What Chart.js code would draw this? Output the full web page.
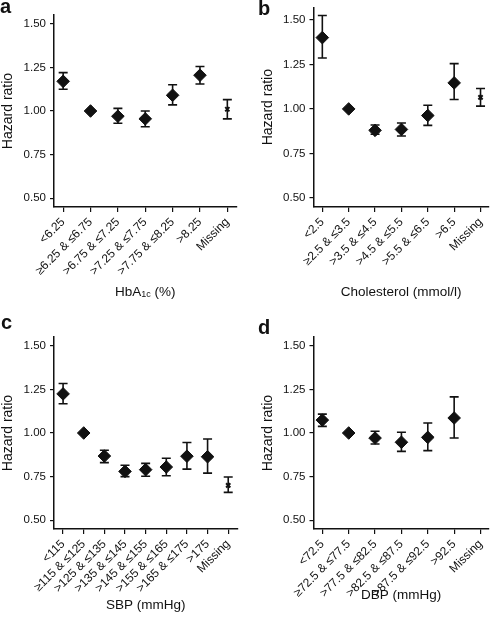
<!DOCTYPE html>
<html>
<head>
<meta charset="utf-8">
<script src="https://cdn.jsdelivr.net/npm/chart.js@4.4.1/dist/chart.umd.min.js"></script>
<style>
  html, body { margin: 0; padding: 0; background: #fff; }
  #wrap { position: relative; width: 496px; height: 620px; overflow: hidden; }
  .panel { position: absolute; width: 248px; height: 310px; }
  .tag { position: absolute; font: bold 20px 'Liberation Sans', Arial, sans-serif; line-height: 20px; color: #111; }
</style>
</head>
<body>
<div id="wrap">
  <div class="panel" style="left:0;top:0"><canvas id="chartA" width="248" height="310"></canvas></div>
  <div class="panel" style="left:248px;top:0"><canvas id="chartB" width="248" height="310"></canvas></div>
  <div class="panel" style="left:0;top:310px"><canvas id="chartC" width="248" height="310"></canvas></div>
  <div class="panel" style="left:248px;top:310px"><canvas id="chartD" width="248" height="310"></canvas></div>
  <div class="tag" style="left:0;top:-4px">a</div>
  <div class="tag" style="left:258px;top:-2px">b</div>
  <div class="tag" style="left:1px;top:312px">c</div>
  <div class="tag" style="left:258px;top:317px">d</div>
</div>
<script>
const yTicks = [0.5, 0.75, 1.0, 1.25, 1.5]

// a: HbA1c
const hba1cLabels = ['<6.25', '≥6.25 & ≤6.75', '>6.75 & ≤7.25', '>7.25 & ≤7.75', '>7.75 & ≤8.25', '>8.25', 'Missing']
const hba1cHR   = [1.17, 1.00, 0.97, 0.955, 1.09, 1.205, 1.01]
const hba1cLow  = [1.125, null, 0.93, 0.91, 1.035, 1.155, 0.955]
const hba1cHigh = [1.22, null, 1.015, 1.00, 1.15, 1.255, 1.065]

// b: cholesterol
const cholLabels = ['<2.5', '≥2.5 & ≤3.5', '>3.5 & ≤4.5', '>4.5 & ≤5.5', '>5.5 & ≤6.5', '>6.5', 'Missing']
const cholHR   = [1.40, 1.00, 0.88, 0.885, 0.963, 1.146, 1.065]
const cholLow  = [1.286, null, 0.858, 0.848, 0.908, 1.053, 1.016]
const cholHigh = [1.524, null, 0.91, 0.921, 1.021, 1.254, 1.115]

// c: SBP
const sbpLabels = ['<115', '≥115 & ≤125', '>125 & ≤135', '>135 & ≤145', '>145 & ≤155', '>155 & ≤165', '>165 & ≤175', '>175', 'Missing']
const sbpHR   = [1.224, 1.00, 0.868, 0.78, 0.79, 0.805, 0.867, 0.864, 0.70]
const sbpLow  = [1.168, null, 0.83, 0.75, 0.752, 0.755, 0.793, 0.77, 0.66]
const sbpHigh = [1.284, null, 0.901, 0.815, 0.826, 0.855, 0.946, 0.966, 0.748]

// d: DBP
const dbpLabels = ['<72.5', '≥72.5 & ≤77.5', '>77.5 & ≤82.5', '>82.5 & ≤87.5', '>87.5 & ≤92.5', '>92.5', 'Missing']
const dbpHR   = [1.074, 1.00, 0.971, 0.947, 0.975, 1.086, null]
const dbpLow  = [1.038, null, 0.937, 0.895, 0.899, 0.971, null]
const dbpHigh = [1.108, null, 1.01, 1.004, 1.057, 1.207, null]

const FONT = "'Liberation Sans', Arial, Helvetica, sans-serif"
const INK = '#111'

function errorBars(lo, hi) {
  return {
    id: 'errorBars',
    beforeDatasetsDraw(chart) {
      const { ctx, scales: { x, y } } = chart
      ctx.save()
      ctx.strokeStyle = INK
      ctx.lineWidth = 1.6
      lo.forEach((l, i) => {
        if (l == null || hi[i] == null) return
        const px = x.getPixelForValue(i)
        const top = y.getPixelForValue(hi[i])
        const bot = y.getPixelForValue(l)
        ctx.beginPath()
        ctx.moveTo(px, top); ctx.lineTo(px, bot)
        ctx.moveTo(px - 4.5, top); ctx.lineTo(px + 4.5, top)
        ctx.moveTo(px - 4.5, bot); ctx.lineTo(px + 4.5, bot)
        ctx.stroke()
      })
      ctx.restore()
    }
  }
}

// x axis title, drawn by hand so HbA1c can have its subscript
function xTitle(parts, yPos) {
  return {
    id: 'xTitle',
    afterDraw(chart) {
      const { ctx, chartArea } = chart
      const fontOf = p => (p.sub ? 9 : 13.5) + 'px ' + FONT
      ctx.save()
      ctx.fillStyle = INK
      ctx.textBaseline = 'middle'
      let total = 0
      parts.forEach(p => { ctx.font = fontOf(p); total += ctx.measureText(p.text).width })
      let x = (chartArea.left + chartArea.right) / 2 - total / 2
      parts.forEach(p => {
        ctx.font = fontOf(p)
        ctx.fillText(p.text, x, yPos + (p.sub ? 3 : 0))
        x += ctx.measureText(p.text).width
      })
      ctx.restore()
    }
  }
}

function panel(id, p) {
  const pts = []
  p.hr.forEach((v, i) => { if (v != null) pts.push({ x: i, y: v }) })
  const isMissing = pts.map(d => p.labels[d.x] === 'Missing')

  return new Chart(document.getElementById(id), {
    type: 'scatter',
    data: {
      datasets: [{
        data: pts,
        pointStyle: isMissing.map(m => m ? 'crossRot' : 'rectRot'),
        pointRadius: isMissing.map(m => m ? 3 : 6.3),
        pointBorderWidth: isMissing.map(m => m ? 2 : 1),
        pointBackgroundColor: INK,
        pointBorderColor: INK
      }]
    },
    options: {
      responsive: false,
      animation: false,
      layout: { padding: p.pad },
      plugins: { legend: { display: false }, tooltip: { enabled: false } },
      scales: {
        x: {
          type: 'linear',
          min: p.xMin,
          max: p.xMax,
          afterBuildTicks: s => { s.ticks = p.labels.map((_, i) => ({ value: i })) },
          // tall box so the rotated labels are not clipped
          afterFit: s => { s.height = p.xHeight; s.paddingLeft = 0; s.paddingRight = 0 },
          ticks: {
            autoSkip: false, minRotation: 45, maxRotation: 45, padding: 3,
            color: INK, font: { family: FONT, size: 12 },
            callback: v => p.labels[v]
          },
          grid: { drawOnChartArea: false, tickLength: 5, color: INK, lineWidth: 1.2 },
          border: { color: INK, width: 1.5 }
        },
        y: {
          min: p.yMin,
          max: p.yMax,
          afterBuildTicks: s => { s.ticks = yTicks.map(v => ({ value: v })) },
          afterFit: s => { s.width = p.yWidth; s.paddingTop = 0; s.paddingBottom = 0 },
          ticks: {
            padding: 4, color: INK, font: { family: FONT, size: 11.5 },
            callback: v => v.toFixed(2)
          },
          grid: { drawOnChartArea: false, tickLength: 4, color: INK, lineWidth: 1.2 },
          border: { color: INK, width: 1.5 },
          title: { display: true, text: 'Hazard ratio', color: INK, font: { family: FONT, size: 14 }, padding: 0 }
        }
      }
    },
    plugins: [errorBars(p.lo, p.hi), xTitle(p.title, p.titleY)]
  })
}

panel('chartA', {
  labels: hba1cLabels, hr: hba1cHR, lo: hba1cLow, hi: hba1cHigh,
  xMin: -0.335, xMax: 6.335, yMin: 0.45, yMax: 1.55,
  pad: { left: 0, top: 15, right: 11.5, bottom: 0 }, yWidth: 54, xHeight: 103,
  title: [{ text: 'HbA' }, { text: '1c', sub: true }, { text: ' (%)' }], titleY: 292
})

panel('chartB', {
  labels: cholLabels, hr: cholHR, lo: cholLow, hi: cholHigh,
  xMin: -0.335, xMax: 6.31, yMin: 0.45, yMax: 1.57,
  pad: { left: 12.2, top: 7, right: 0, bottom: 0 }, yWidth: 53.3, xHeight: 103,
  title: [{ text: 'Cholesterol (mmol/l)' }], titleY: 292
})

panel('chartC', {
  labels: sbpLabels, hr: sbpHR, lo: sbpLow, hi: sbpHigh,
  xMin: -0.44, xMax: 8.44, yMin: 0.45, yMax: 1.55,
  pad: { left: 0, top: 27, right: 10.7, bottom: 0 }, yWidth: 54, xHeight: 91,
  title: [{ text: 'SBP (mmHg)' }], titleY: 295
})

panel('chartD', {
  labels: dbpLabels, hr: dbpHR, lo: dbpLow, hi: dbpHigh,
  xMin: -0.335, xMax: 6.31, yMin: 0.45, yMax: 1.55,
  pad: { left: 12.2, top: 27, right: 0, bottom: 0 }, yWidth: 53.3, xHeight: 91,
  title: [{ text: 'DBP (mmHg)' }], titleY: 285
})
</script>
</body>
</html>
